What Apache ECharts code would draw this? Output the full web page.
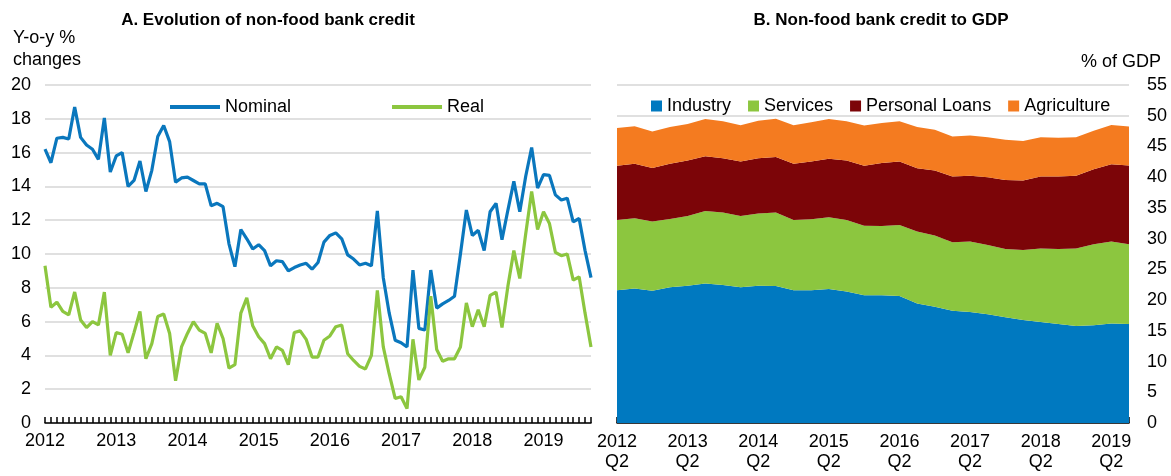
<!DOCTYPE html>
<html>
<head>
<meta charset="utf-8">
<script src="https://cdn.jsdelivr.net/npm/echarts@6/dist/echarts.min.js"></script>
<style>
  html, body { margin: 0; padding: 0; background: #fff; }
  #chart { width: 1171px; height: 476px; }
</style>
</head>
<body>
<div id="chart"></div>
<script>
// panel A: monthly, Jan 2012 - Sep 2019
const years = ['2012', '2013', '2014', '2015', '2016', '2017', '2018', '2019'];
const nominal = [
  16.2, 15.4, 16.85, 16.9, 16.8, 18.7, 16.9, 16.45, 16.2, 15.6, 18.05, 14.85,
  15.8, 16.0, 14.0, 14.35, 15.5, 13.7, 14.95, 16.95, 17.6, 16.65, 14.25, 14.5,
  14.55, 14.35, 14.15, 14.15, 12.85, 13.0, 12.8, 10.6, 9.25, 11.45, 10.9, 10.3,
  10.55, 10.2, 9.3, 9.6, 9.55, 9.0, 9.2, 9.35, 9.45, 9.1, 9.5, 10.7,
  11.1, 11.25, 10.9, 9.95, 9.7, 9.35, 9.45, 9.3, 12.55, 8.6, 6.5, 4.9,
  4.75, 4.5, 9.05, 5.6, 5.5, 9.05, 6.8, 7.05, 7.25, 7.5, 10.0, 12.6,
  11.1, 11.4, 10.2, 12.5, 13.0, 10.85, 12.6, 14.3, 12.5, 14.6, 16.3, 13.9,
  14.7, 14.65, 13.5, 13.2, 13.3, 11.9, 12.1, 10.2, 8.6
];
const real = [
  9.3, 6.85, 7.15, 6.6, 6.4, 7.75, 6.1, 5.65, 6.0, 5.8, 7.75, 4.0,
  5.35, 5.25, 4.15, 5.35, 6.6, 3.8, 4.7, 6.3, 6.45, 5.3, 2.5, 4.5,
  5.3, 6.0, 5.5, 5.3, 4.15, 5.9, 5.0, 3.25, 3.45, 6.5, 7.4, 5.75,
  5.1, 4.7, 3.8, 4.5, 4.3, 3.45, 5.35, 5.45, 4.95, 3.9, 3.9, 4.9,
  5.15, 5.7, 5.8, 4.1, 3.7, 3.35, 3.2, 4.0, 7.85, 4.5, 2.9, 1.45,
  1.55, 0.85, 4.95, 2.55, 3.3, 7.5, 4.35, 3.65, 3.8, 3.8, 4.5, 7.1,
  5.7, 6.7, 5.7, 7.55, 7.75, 5.65, 8.1, 10.2, 8.55, 11.2, 13.7, 11.45,
  12.5, 11.8, 10.1, 9.9, 10.0, 8.45, 8.65, 6.5, 4.5
];

// panel B: quarterly, 2012Q2 - 2019Q3, % of GDP
const quarterNames = ['Q1', 'Q2', 'Q3', 'Q4'];
const industry = [
  21.6, 21.9, 21.5, 22.1, 22.35, 22.7, 22.45, 22.1, 22.35, 22.3,
  21.6, 21.6, 21.8, 21.4, 20.8, 20.8, 20.65, 19.45, 18.9, 18.25,
  18.05, 17.7, 17.2, 16.75, 16.45, 16.1, 15.8, 15.9, 16.2, 16.1
];
const services = [
  11.45, 11.4, 11.3, 11.1, 11.35, 11.8, 11.8, 11.6, 11.75, 11.95,
  11.45, 11.55, 11.7, 11.65, 11.3, 11.25, 11.55, 11.7, 11.6, 11.15,
  11.5, 11.25, 11.1, 11.4, 11.95, 12.2, 12.6, 13.2, 13.35, 13.0
];
const personalLoans = [
  8.8, 8.9, 8.7, 9.0, 9.0, 8.9, 8.85, 8.85, 9.0, 9.05,
  9.15, 9.4, 9.5, 9.65, 9.75, 10.25, 10.35, 10.3, 10.6, 10.7,
  10.7, 11.05, 11.25, 11.3, 11.7, 11.8, 11.85, 12.2, 12.55, 12.8
];
const agriculture = [
  6.15, 6.07, 5.95, 5.95, 5.95, 6.05, 6.0, 5.9, 6.1, 6.2,
  6.25, 6.4, 6.45, 6.4, 6.55, 6.5, 6.55, 6.7, 6.6, 6.5,
  6.55, 6.5, 6.55, 6.45, 6.4, 6.3, 6.25, 6.25, 6.4, 6.35
];

const months = [];
years.forEach(y => {
  for (let m = 1; m <= 12; m++) months.push(y + '-' + (m < 10 ? '0' + m : m));
});
const monthCats = months.slice(0, nominal.length);

const quarters = [];
years.forEach(y => quarterNames.forEach(q => quarters.push(y + ' ' + q)));
const quarterCats = quarters.slice(1, 1 + industry.length);

const FONT = "'Liberation Sans', Arial, sans-serif";
const FS = 18;
const GRID_COLOR = '#d6d6d6';
const BLUE = '#0a77bd';
const GREEN = '#8cc63f';

const chart = echarts.init(document.getElementById('chart'));

const option = {
  animation: false,
  textStyle: {fontFamily: FONT, color: '#000'},
  title: [
    {
      text: 'A. Evolution of non-food bank credit',
      left: 263, top: 7, textAlign: 'center',
      textStyle: {fontFamily: FONT, fontSize: 17, fontWeight: 'bold', color: '#000'}
    },
    {
      text: 'B. Non-food bank credit to GDP',
      left: 876, top: 7, textAlign: 'center',
      textStyle: {fontFamily: FONT, fontSize: 17, fontWeight: 'bold', color: '#000'}
    }
  ],
  graphic: [
    {
      type: 'text', left: 13, top: 27,
      style: {text: 'Y-o-y %\nchanges', font: FS + 'px ' + FONT, fill: '#000', lineHeight: 22}
    },
    {
      type: 'text', right: 10, top: 53,
      style: {text: '% of GDP', font: FS + 'px ' + FONT, fill: '#000'}
    }
  ],
  legend: [
    {
      left: 165, top: 93, itemGap: 101,
      icon: 'rect', itemWidth: 50, itemHeight: 4,
      textStyle: {fontFamily: FONT, fontSize: FS, color: '#000'},
      data: ['Nominal', 'Real']
    },
    {
      left: 646, top: 92, itemGap: 17, width: 500,
      icon: 'rect', itemWidth: 11, itemHeight: 11,
      textStyle: {fontFamily: FONT, fontSize: FS, color: '#000'},
      data: ['Industry', 'Services', 'Personal Loans', 'Agriculture']
    }
  ],
  grid: [
    {left: 45, right: 580, top: 85, bottom: 53},
    {left: 617, right: 42, top: 85, bottom: 53}
  ],
  xAxis: [
    {
      type: 'category', gridIndex: 0, data: monthCats, boundaryGap: false,
      axisLine: {lineStyle: {color: '#000', width: 1.5}},
      axisTick: {show: true, inside: true, length: 6, interval: 0, lineStyle: {color: '#000', width: 1.5}},
      axisLabel: {
        interval: 11, margin: 9, fontSize: FS, color: '#000', fontFamily: FONT,
        formatter: v => v.slice(0, 4)
      },
      splitLine: {show: false}
    },
    {
      type: 'category', gridIndex: 1, data: quarterCats, boundaryGap: false,
      axisLine: {lineStyle: {color: '#000', width: 1.5}},
      axisTick: {show: true, inside: true, length: 6, interval: 0, lineStyle: {color: '#000', width: 1.5}},
      axisLabel: {
        interval: 3, margin: 9, fontSize: FS, lineHeight: 20, color: '#000', fontFamily: FONT,
        formatter: v => v.replace(' ', '\n')
      },
      splitLine: {show: false}
    }
  ],
  yAxis: [
    {
      type: 'value', gridIndex: 0, min: 0, max: 20, interval: 2,
      axisLine: {show: false}, axisTick: {show: false},
      axisLabel: {margin: 14, fontSize: FS, color: '#000', fontFamily: FONT},
      splitLine: {lineStyle: {color: GRID_COLOR, width: 1.5}}
    },
    {
      type: 'value', gridIndex: 1, position: 'right', min: 0, max: 55, interval: 5,
      axisLine: {show: false}, axisTick: {show: false},
      axisLabel: {margin: 18, fontSize: FS, color: '#000', fontFamily: FONT},
      splitLine: {lineStyle: {color: GRID_COLOR, width: 1.5}}
    }
  ],
  series: [
    {
      name: 'Nominal', type: 'line', xAxisIndex: 0, yAxisIndex: 0, data: nominal,
      showSymbol: false, color: BLUE, lineStyle: {width: 3.2, color: BLUE}
    },
    {
      name: 'Real', type: 'line', xAxisIndex: 0, yAxisIndex: 0, data: real,
      showSymbol: false, color: GREEN, lineStyle: {width: 3.2, color: GREEN}
    },
    {
      name: 'Industry', type: 'line', xAxisIndex: 1, yAxisIndex: 1, stack: 'gdp', data: industry,
      showSymbol: false, color: '#0079c0', lineStyle: {width: 0}, areaStyle: {color: '#0079c0', opacity: 1}
    },
    {
      name: 'Services', type: 'line', xAxisIndex: 1, yAxisIndex: 1, stack: 'gdp', data: services,
      showSymbol: false, color: '#8cc63f', lineStyle: {width: 0}, areaStyle: {color: '#8cc63f', opacity: 1}
    },
    {
      name: 'Personal Loans', type: 'line', xAxisIndex: 1, yAxisIndex: 1, stack: 'gdp', data: personalLoans,
      showSymbol: false, color: '#7c0508', lineStyle: {width: 0}, areaStyle: {color: '#7c0508', opacity: 1}
    },
    {
      name: 'Agriculture', type: 'line', xAxisIndex: 1, yAxisIndex: 1, stack: 'gdp', data: agriculture,
      showSymbol: false, color: '#f47b20', lineStyle: {width: 0}, areaStyle: {color: '#f47b20', opacity: 1}
    }
  ]
};

chart.setOption(option);
</script>
</body>
</html>
